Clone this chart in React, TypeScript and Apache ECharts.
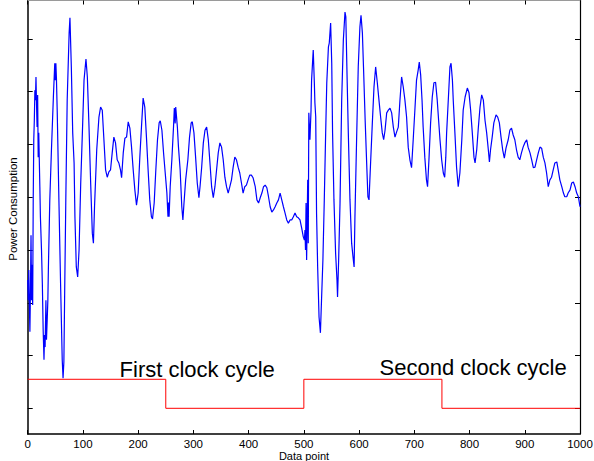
import React, { useEffect, useRef } from "react";
import * as echarts from "echarts";

const FONT = '"Liberation Sans", Arial, Helvetica, sans-serif';

// x axis (data point index)
const xMin = 0;
const xMax = 1000;
const xInterval = 100;

// y axis (arbitrary power units; ticks shown without labels)
const yMin = -0.487;
const yMax = 7.729;
const yTickValues = [0, 1, 2, 3, 4, 5, 6, 7];

// clock signal (step)
const clockX = [0, 250, 500, 750, 1000];
const clockY = [0.55, 0, 0.55, 0, 0];

// power trace, first clock cycle (x = data point, y = power)
const traceA: [number, number][] = [
  [0, 2.43], [1, 2.05], [2, 2.62], [3, 1.96], [4, 1.45], [5, 2.24], [6, 3.28], [7, 2.05], [8, 2.72], [9, 1.96],
  [10, 3.95], [11, 5.09], [12, 5.46], [13, 6.03], [14, 5.84], [15, 6.28], [16, 5.75], [17, 5.33], [18, 5.94], [19, 4.76],
  [20, 5.22], [22, 4.2], [23, 3.63], [25, 3.0], [26.5, 2.37], [28, 1.48], [29.5, 0.92], [30.5, 1.39], [31.5, 1.16], [33, 2.05],
  [34, 1.3], [35.5, 1.73], [36.5, 2.05], [37.5, 2.68], [40, 3.95], [43, 4.9], [46.5, 5.9], [49, 6.54], [50, 6.22], [51, 6.54],
  [52, 6.26], [53.5, 5.6], [56.5, 3.95], [59.5, 2.37], [62.5, 0.92], [64, 0.57], [65.5, 0.88], [67, 2.24], [69, 3.95], [71.5, 5.84],
  [75, 7.11], [76.5, 7.4], [79, 6.47], [81.5, 5.22], [84, 4.65], [85.5, 3.63], [88, 2.68], [90.5, 2.49], [93, 3.0], [96, 4.27],
  [99, 5.22], [102, 6.22], [105.5, 6.62], [108, 6.28], [111, 5.33], [114, 4.27], [117, 3.32], [119, 3.13], [121, 3.82], [125, 4.9],
  [129, 5.52], [132, 5.71], [135, 5.65], [138, 5.09], [141, 4.52], [144, 4.38], [147, 4.48], [150, 4.52], [153, 4.84], [156, 5.14],
  [159, 5.03], [162, 4.71], [165, 4.65], [168, 4.52], [170, 4.37], [173, 4.84], [176, 5.12], [179, 5.14], [182, 5.43], [185, 5.31],
  [188, 4.95], [191, 4.52], [194, 4.14], [197, 3.85], [200, 4.08], [203, 4.76], [206, 5.33], [209, 5.88], [212, 5.71], [215, 5.14],
  [218, 4.52], [221, 3.95], [224, 3.63], [226, 3.59], [229, 3.89], [232, 4.52], [235, 5.09], [238, 5.41], [240, 5.45], [243, 5.27],
  [246, 4.84], [249, 4.46], [252, 4.08], [254, 3.63], [255, 3.9], [256, 3.63], [258, 4.2], [261, 4.71], [264, 5.33], [265.5, 5.69],
  [267, 5.4], [268, 5.71], [271, 5.33], [273, 4.95], [276, 4.52], [279, 3.82], [281, 3.57], [283, 3.89], [286, 4.33], [290, 4.71],
  [293, 5.14], [296, 5.41], [298, 5.43], [301, 5.22], [304, 4.76], [307, 4.27], [310, 3.99], [312, 4.2], [315, 4.57], [318, 5.03],
  [321, 5.27], [324, 5.33], [327, 5.09], [330, 4.65], [333, 4.2], [336, 3.99], [339, 4.2], [342, 4.52], [345, 4.84], [348, 5.03],
  [351, 4.95], [354, 4.71], [357, 4.38], [360, 4.2], [363, 4.08], [366, 4.2], [369, 4.33], [372, 4.57], [375, 4.76], [378, 4.71],
  [381, 4.57], [384, 4.46], [387, 4.27], [390, 4.08], [393, 4.2], [396, 4.23], [399, 4.33], [402, 4.42], [405, 4.42], [408, 4.37],
  [412, 4.2], [415, 3.95], [418, 3.89], [421, 3.99], [424, 4.08], [427, 4.2], [430, 4.23], [433, 4.18], [436, 4.01], [439, 3.82],
  [442, 3.72], [445, 3.76], [448, 3.82], [451, 3.89], [454, 3.95], [457, 4.08], [460, 3.95], [463, 3.82], [466, 3.7], [469, 3.57],
  [472, 3.51], [475, 3.57], [478, 3.57], [481, 3.63], [484, 3.7], [487, 3.63], [490, 3.61], [493, 3.57], [496, 3.42], [499, 3.25],
];

// power trace, second clock cycle
const traceB: [number, number][] = [
  [501, 3.19], [502, 3.38], [503, 3.0], [504, 3.89], [505, 2.81], [507, 4.33], [508, 3.13], [509, 5.6], [511, 5.09], [513, 5.65],
  [514, 6.22], [516, 6.6], [517, 6.79], [519, 6.17], [520, 5.79], [521.5, 5.52], [523, 3.7], [525, 2.68], [527.5, 1.73], [530, 1.43],
  [532, 2.05], [534.5, 2.81], [537, 3.95], [539.5, 5.22], [541.5, 6.17], [544.5, 6.85], [546, 6.92], [548.5, 7.3], [550.5, 6.54], [552, 5.22],
  [554.5, 3.95], [557.5, 2.94], [560, 2.43], [561, 2.11], [563, 2.81], [565.5, 3.89], [568.5, 5.84], [571.5, 6.98], [574.5, 7.51], [576, 7.42],
  [578.5, 6.17], [580.5, 5.22], [583.5, 3.95], [586.5, 3.13], [589, 2.87], [591, 2.68], [592.5, 3.63], [595.5, 5.09], [598.5, 6.47], [601.5, 7.23],
  [603.5, 7.45], [606, 7.11], [608, 6.47], [611, 5.46], [614, 4.57], [616, 4.01], [618, 3.95], [620.5, 4.57], [624, 5.41], [627, 6.09],
  [630, 6.47], [633, 6.17], [636, 5.84], [639, 5.52], [642, 5.22], [644.5, 5.09], [647, 5.27], [650, 5.6], [653, 5.65], [656, 5.69],
  [659, 5.6], [662, 5.33], [665, 5.14], [668, 5.24], [671, 5.33], [674, 5.84], [677, 6.28], [680, 6.09], [683, 5.84], [686, 5.52],
  [689, 4.95], [692, 4.71], [695, 4.56], [698, 5.09], [701, 5.65], [704, 6.22], [707, 6.41], [709, 6.56], [711.5, 6.32], [714, 5.84],
  [716, 5.33], [719, 4.76], [722, 4.33], [724, 4.2], [726.5, 4.71], [729.5, 5.41], [732.5, 5.9], [735.5, 6.17], [738.5, 6.18], [741.5, 5.84],
  [744, 5.46], [746.5, 5.09], [749.5, 4.71], [752.5, 4.46], [755, 4.38], [757, 4.76], [758.5, 5.22], [761.5, 5.84], [764.5, 6.47], [766.5, 6.54],
  [769, 6.22], [770.5, 5.84], [773.5, 5.22], [776.5, 4.57], [779.5, 4.2], [782.5, 4.46], [786, 5.09], [788.5, 5.65], [792, 5.9], [796, 6.07],
  [799, 5.98], [802, 5.65], [805, 5.22], [808, 4.76], [810, 4.65], [813, 4.9], [816, 5.33], [819, 5.71], [822, 5.94], [825, 5.84],
  [828, 5.46], [831, 5.22], [834, 4.9], [836, 4.67], [838, 4.9], [841, 5.14], [844, 5.41], [848, 5.56], [851, 5.52], [854, 5.41],
  [857, 5.14], [860, 4.9], [863, 4.74], [866, 4.93], [870, 5.09], [873, 5.27], [876, 5.31], [879, 5.18], [882, 5.09], [885, 4.9],
  [888, 4.76], [891, 4.71], [894, 4.84], [897, 4.95], [900, 5.03], [903.5, 5.09], [906, 4.95], [909.5, 4.84], [912.5, 4.71], [915.5, 4.56],
  [918.5, 4.57], [921.5, 4.71], [924.5, 4.84], [927.5, 4.95], [930.5, 4.93], [933.5, 4.76], [936.5, 4.65], [939.5, 4.46], [942.5, 4.2], [945.5, 4.33],
  [948.5, 4.38], [951.5, 4.52], [954.5, 4.65], [958, 4.67], [960.5, 4.52], [963.5, 4.33], [967, 4.2], [970, 4.08], [972.5, 4.01], [976, 4.01],
  [978.5, 4.08], [982, 4.14], [985, 4.27], [988, 4.29], [991, 4.2], [994, 4.08], [997, 4.01], [1000, 3.82],
];

const annotationTexts = ["First clock cycle", "Second clock cycle"];
const xTitle = "Data point";
const yTitle = "Power Consumption";

export default function App() {
  const ref = useRef<HTMLDivElement>(null);

  useEffect(() => {
    if (!ref.current) return;
    const chart = echarts.init(ref.current, null, { renderer: "svg" });
    const signal = [...traceA, ...traceB];
    const clock = clockX.map((x, i) => [x, clockY[i]]);

    const yAxisBase = {
      type: "value" as const,
      min: yMin,
      max: yMax,
      axisLabel: { show: false },
      splitLine: { show: false },
    };

    chart.setOption({
      animation: false,
      backgroundColor: "#ffffff",
      grid: { left: 27.7, right: 14, top: 0.5, bottom: 27, containLabel: false, outerBoundsMode: "none" },
      xAxis: [
        {
          type: "value",
          min: xMin,
          max: xMax,
          interval: xInterval,
          position: "bottom",
          axisLine: { show: true, onZero: false, lineStyle: { color: "#000", width: 1.5 } },
          axisTick: { show: true, inside: true, length: 4, lineStyle: { color: "#000", width: 1 } },
          axisLabel: { color: "#000", fontSize: 11.5, margin: 4, lineHeight: 12, fontFamily: FONT, formatter: (v: number) => String(v) },
          splitLine: { show: false },
        },
        {
          type: "value",
          min: xMin,
          max: xMax,
          interval: xInterval,
          position: "top",
          axisLine: { show: true, onZero: false, lineStyle: { color: "#9a9a9a", width: 1 } },
          axisTick: { show: true, inside: true, length: 4, lineStyle: { color: "#000", width: 1 } },
          axisLabel: { show: false },
          splitLine: { show: false },
        },
      ],
      yAxis: [
        {
          ...yAxisBase,
          position: "left",
          axisLine: { show: true, onZero: false, lineStyle: { color: "#000", width: 1.5 } },
          axisTick: { show: true, inside: true, length: 5, customValues: yTickValues, lineStyle: { color: "#000", width: 1 } },
        },
        {
          ...yAxisBase,
          position: "right",
          axisLine: { show: true, onZero: false, lineStyle: { color: "#000", width: 1.2 } },
          axisTick: { show: true, inside: true, length: 5, customValues: yTickValues, lineStyle: { color: "#000", width: 1 } },
        },
      ],
      series: [
        {
          type: "line",
          data: signal,
          xAxisIndex: 0,
          yAxisIndex: 0,
          showSymbol: false,
          symbol: "none",
          lineStyle: { color: "#0000ff", width: 1.2 },
          z: 2,
        },
        {
          type: "line",
          data: clock,
          step: "end",
          xAxisIndex: 0,
          yAxisIndex: 0,
          showSymbol: false,
          symbol: "none",
          lineStyle: { color: "#ff0000", width: 1 },
          z: 3,
        },
      ],
      graphic: [
        {
          type: "text",
          rotation: Math.PI / 2,
          x: 12.5,
          y: 209,
          style: {
            text: yTitle,
            fontSize: 11.5,
            fontFamily: FONT,
            fill: "#000",
            align: "center",
            verticalAlign: "middle",
          },
        },
        {
          type: "text",
          x: 304,
          y: 455.8,
          style: { text: xTitle, fontSize: 11, lineHeight: 10, fontFamily: FONT, fill: "#000", align: "center", verticalAlign: "middle" },
        },
        {
          type: "text",
          x: 119.6,
          y: 369,
          style: { text: annotationTexts[0], fontSize: 22, fontFamily: FONT, fill: "#000", align: "left", verticalAlign: "middle" },
        },
        {
          type: "text",
          x: 379.6,
          y: 367,
          style: { text: annotationTexts[1], fontSize: 22, fontFamily: FONT, fill: "#000", align: "left", verticalAlign: "middle" },
        },
      ],
    });
    return () => chart.dispose();
  }, []);

  return <div ref={ref} style={{ width: 594, height: 461, position: "absolute", left: 0, top: 0 }} />;
}
